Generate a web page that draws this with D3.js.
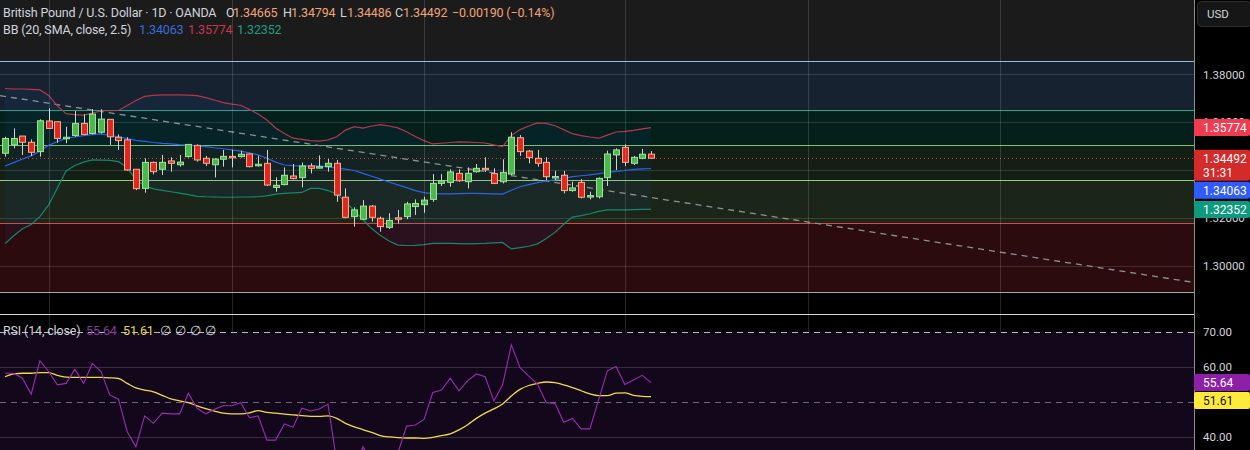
<!DOCTYPE html>
<html>
<head>
<meta charset="utf-8">
<title>GBPUSD 1D</title>
<script src="https://cdn.jsdelivr.net/npm/d3@7/dist/d3.min.js"></script>
<style>
  html, body { margin: 0; padding: 0; background: #000; overflow: hidden; }
  svg { display: block; }
  text { font-family: Roboto, "Liberation Sans", sans-serif; }
</style>
</head>
<body>
<div id="chart"></div>
<script>
// Daily candles, oldest to newest
const opens  = [1.3470, 1.3505, 1.3542, 1.3516, 1.3477, 1.3605, 1.3602, 1.3531, 1.3544, 1.3595,
                1.3553, 1.3558, 1.3612, 1.3537, 1.3526, 1.3403, 1.3323, 1.3432, 1.3403, 1.3438,
                1.3422, 1.3456, 1.3503, 1.3449, 1.3422, 1.3445, 1.3457, 1.3456, 1.3467, 1.3418,
                1.3428, 1.3327, 1.3339, 1.3375, 1.3368, 1.3417, 1.3411, 1.3414, 1.3428, 1.3286,
                1.3205, 1.3194, 1.3249, 1.3198, 1.3160, 1.3200, 1.3205, 1.3247, 1.3255, 1.3277,
                1.3344, 1.3348, 1.3386, 1.3351, 1.3393, 1.3407, 1.3385, 1.3351, 1.3383, 1.3535,
                1.3479, 1.3449, 1.3432, 1.3371, 1.3378, 1.3314, 1.3348, 1.3288, 1.3288, 1.3368,
                1.3463, 1.3495, 1.3428, 1.3449, 1.34665];
const highs  = [1.3539, 1.3574, 1.3543, 1.3528, 1.3612, 1.3658, 1.3603, 1.3581, 1.3647, 1.3633,
                1.3654, 1.3654, 1.3613, 1.3549, 1.3537, 1.3404, 1.3449, 1.3435, 1.3463, 1.3453,
                1.3463, 1.3508, 1.3507, 1.3459, 1.3449, 1.3484, 1.3484, 1.3481, 1.3470, 1.3460,
                1.3484, 1.3369, 1.3411, 1.3425, 1.3431, 1.3428, 1.3461, 1.3446, 1.3442, 1.3323,
                1.3244, 1.3274, 1.3253, 1.3205, 1.3219, 1.3233, 1.3267, 1.3277, 1.3288, 1.3383,
                1.3383, 1.3403, 1.3403, 1.3411, 1.3425, 1.3453, 1.3407, 1.3445, 1.3558, 1.3546,
                1.3484, 1.3484, 1.3453, 1.3397, 1.3396, 1.3351, 1.3362, 1.3309, 1.3369, 1.3481,
                1.3491, 1.3507, 1.3459, 1.3488, 1.34794];
const lows   = [1.3456, 1.3491, 1.3463, 1.3459, 1.3456, 1.3573, 1.3514, 1.3512, 1.3539, 1.3546,
                1.3549, 1.3553, 1.3505, 1.3484, 1.3397, 1.3316, 1.3305, 1.3382, 1.3379, 1.3393,
                1.3414, 1.3452, 1.3435, 1.3417, 1.3369, 1.3414, 1.3411, 1.3452, 1.3411, 1.3414,
                1.3333, 1.3309, 1.3336, 1.3361, 1.3327, 1.3386, 1.3407, 1.3393, 1.3267, 1.3198,
                1.3163, 1.3191, 1.3184, 1.3142, 1.3153, 1.3177, 1.3194, 1.3212, 1.3221, 1.3267,
                1.3333, 1.3330, 1.3351, 1.3323, 1.3389, 1.3392, 1.3341, 1.3344, 1.3379, 1.3459,
                1.3428, 1.3414, 1.3358, 1.3358, 1.3302, 1.3309, 1.3281, 1.3277, 1.3281, 1.3333,
                1.3400, 1.3417, 1.3421, 1.3445, 1.34486];
const closes = [1.3532, 1.3532, 1.3516, 1.3474, 1.3606, 1.3574, 1.3532, 1.3537, 1.3595, 1.3549,
                1.3634, 1.3613, 1.3539, 1.3523, 1.3400, 1.3322, 1.3432, 1.3393, 1.3432, 1.3428,
                1.3433, 1.3507, 1.3442, 1.3428, 1.3446, 1.3457, 1.3455, 1.3466, 1.3414, 1.3424,
                1.3337, 1.3336, 1.3378, 1.3364, 1.3417, 1.3407, 1.3414, 1.3428, 1.3295, 1.3202,
                1.3233, 1.3249, 1.3202, 1.3163, 1.3189, 1.3198, 1.3258, 1.3260, 1.3274, 1.3344,
                1.3355, 1.3392, 1.3355, 1.3386, 1.3407, 1.3404, 1.3344, 1.3390, 1.3537, 1.3477,
                1.3452, 1.3428, 1.3372, 1.3373, 1.3314, 1.3325, 1.3286, 1.3293, 1.3365, 1.3467,
                1.3484, 1.3432, 1.3453, 1.3466, 1.34492];

// Bollinger Bands (20, SMA, close, 2.5)
const bbUpper = [1.3741, 1.3739, 1.3739, 1.3737, 1.3735, 1.3712, 1.3668, 1.3636, 1.3632, 1.3630,
                 1.3638, 1.3648, 1.3648, 1.3649, 1.3670, 1.3691, 1.3708, 1.3712, 1.3714, 1.3714,
                 1.3714, 1.3713, 1.3711, 1.3703, 1.3693, 1.3682, 1.3676, 1.3671, 1.3653, 1.3634,
                 1.3609, 1.3576, 1.3553, 1.3533, 1.3528, 1.3523, 1.3521, 1.3526, 1.3539, 1.3567,
                 1.3581, 1.3575, 1.3584, 1.3590, 1.3584, 1.3576, 1.3560, 1.3540, 1.3523, 1.3509,
                 1.3512, 1.3515, 1.3518, 1.3517, 1.3515, 1.3513, 1.3505, 1.3498, 1.3544, 1.3569,
                 1.3584, 1.3597, 1.3595, 1.3585, 1.3569, 1.3552, 1.3544, 1.3538, 1.3533, 1.3546,
                 1.3559, 1.3562, 1.3566, 1.3572, 1.35774];
const bbBasis = [1.3417, 1.3431, 1.3446, 1.3459, 1.3480, 1.3503, 1.3519, 1.3532, 1.3538, 1.3544,
                 1.3548, 1.3551, 1.3545, 1.3539, 1.3531, 1.3524, 1.3520, 1.3515, 1.3511, 1.3509,
                 1.3506, 1.3504, 1.3501, 1.3498, 1.3493, 1.3489, 1.3484, 1.3479, 1.3472, 1.3463,
                 1.3449, 1.3433, 1.3421, 1.3418, 1.3417, 1.3417, 1.3417, 1.3413, 1.3408, 1.3404,
                 1.3398, 1.3386, 1.3374, 1.3362, 1.3350, 1.3338, 1.3326, 1.3314, 1.3305, 1.3301,
                 1.3300, 1.3300, 1.3301, 1.3302, 1.3302, 1.3301, 1.3300, 1.3299, 1.3315, 1.3330,
                 1.3339, 1.3347, 1.3354, 1.3359, 1.3365, 1.3372, 1.3376, 1.3380, 1.3385, 1.3390,
                 1.3394, 1.3398, 1.3403, 1.3405, 1.34063];
const bbLower = [1.3092, 1.3125, 1.3154, 1.3172, 1.3205, 1.3254, 1.3325, 1.3396, 1.3419, 1.3433,
                 1.3442, 1.3441, 1.3440, 1.3435, 1.3410, 1.3358, 1.3334, 1.3321, 1.3315, 1.3309,
                 1.3303, 1.3297, 1.3290, 1.3288, 1.3287, 1.3286, 1.3286, 1.3287, 1.3287, 1.3288,
                 1.3292, 1.3299, 1.3302, 1.3304, 1.3306, 1.3323, 1.3323, 1.3314, 1.3300, 1.3266,
                 1.3230, 1.3192, 1.3155, 1.3126, 1.3103, 1.3086, 1.3084, 1.3085, 1.3088, 1.3093,
                 1.3093, 1.3093, 1.3092, 1.3091, 1.3092, 1.3093, 1.3095, 1.3097, 1.3070, 1.3075,
                 1.3081, 1.3091, 1.3113, 1.3139, 1.3173, 1.3203, 1.3209, 1.3217, 1.3227, 1.3233,
                 1.3233, 1.3233, 1.3234, 1.3235, 1.32352];

// RSI (14, close) and its moving average
const rsiValues = [58.3, 58.3, 56.9, 52.3, 61.9, 58.8, 55.0, 55.4, 59.4, 55.4,
                   61.1, 58.8, 52.1, 50.9, 41.6, 37.3, 46.1, 44.0, 46.9, 46.7,
                   46.7, 52.6, 48.3, 46.7, 48.0, 49.0, 49.0, 49.9, 45.6, 46.1,
                   39.2, 39.2, 43.8, 42.9, 48.3, 47.5, 48.1, 49.5, 33.0, 28.0,
                   31.0, 37.3, 33.0, 29.5, 33.0, 35.5, 43.2, 43.5, 45.1, 52.8,
                   53.5, 56.9, 53.3, 56.2, 58.1, 57.3, 50.4, 55.0, 66.4, 59.9,
                   57.5, 55.2, 49.9, 49.7, 44.3, 45.4, 42.4, 42.4, 50.7, 59.0,
                   60.2, 55.1, 56.4, 57.7, 55.64];
const rsiMa = [57.3, 58.1, 58.3, 58.3, 58.5, 58.5, 57.7, 57.2, 57.1, 57.1,
               57.1, 57.1, 57.0, 56.8, 55.4, 54.1, 53.5, 53.0, 52.0, 51.0,
               50.4, 49.9, 49.0, 48.2, 47.5, 46.9, 46.7, 46.7, 47.0, 47.6,
               47.1, 46.9, 46.6, 46.4, 46.2, 46.0, 46.0, 46.1, 45.4, 44.0,
               43.0, 42.2, 41.4, 40.5, 40.1, 39.9, 39.8, 39.8, 39.7, 40.0,
               40.5, 41.0, 42.1, 43.6, 45.4, 46.9, 48.1, 49.5, 51.8, 53.7,
               54.8, 55.4, 55.8, 55.6, 55.0, 54.2, 53.3, 52.4, 51.9, 51.9,
               52.6, 52.7, 52.0, 51.7, 51.61];

// Axis ticks
const priceTicks = [1.30, 1.32, 1.34, 1.36, 1.38];
const rsiTicks = [70, 60, 50, 40];
// Bar index of each month start (vertical grid)
const monthStarts = [5, 26, 48, 71, 92, 114];

// Drawn horizontal zones (price levels, top to bottom) and the trend line
const zoneLevels = [1.3856, 1.3651, 1.3505, 1.3358, 1.3178, 1.2890];
const trendPoints = [{ i: 0, p: 1.3708 }, { i: 74, p: 1.3285 }];

// Legend texts
const symbolTitle = "British Pound / U.S. Dollar · 1D · OANDA";
const changeText = "−0.00190 (−0.14%)";
const countdown = "31:31";

// ---- layout / style ----
const W = 1250, H = 450;
const axisX = 1194;
const mainBottom = 313;
const sepY = 314;

const zoneFills = ["#16222f", "#05201b", "#131f14", "#1b2619", "#2c0b0f"];
const zoneStrokes = ["#8ebfe8", "#22a58b", "#79c470", "#8fd083", "#d94848", "#a9a9a9"];
const upBody = "#4cb84c", upBorder = "#9fe49c";
const downBody = "#e0271f", downBorder = "#f7b090";
const wickColor = "#d2d2d2";

const svg = d3.select("#chart").append("svg")
    .attr("width", W)
    .attr("height", H)
    .attr("viewBox", `0 0 ${W} ${H}`);

svg.append("rect").attr("width", W).attr("height", H).attr("fill", "#000");

// Scales
const x = d3.scaleLinear().domain([-0.573, 136.2]).range([0, axisX]);
const y = d3.scaleLinear().domain([1.30, 1.38]).range([265.6, 74.4]);
const yRsi = d3.scaleLinear().domain([30, 70]).range([472.3, 332.3]);

const idx = d3.range(closes.length);

const defs = svg.append("defs");
defs.append("clipPath").attr("id", "clip-main")
    .append("rect").attr("x", 0).attr("y", 0).attr("width", axisX).attr("height", mainBottom);
defs.append("clipPath").attr("id", "clip-rsi")
    .append("rect").attr("x", 0).attr("y", sepY + 1).attr("width", axisX).attr("height", H - sepY);

// ================= main pane =================
const main = svg.append("g").attr("clip-path", "url(#clip-main)");

// grey area above the top zone
main.append("rect")
    .attr("x", 0).attr("y", 0)
    .attr("width", axisX).attr("height", y(zoneLevels[0]))
    .attr("fill", "#1b1b1c");

// zone rectangles
main.selectAll("rect.zone")
    .data(d3.pairs(zoneLevels))
    .join("rect")
    .attr("class", "zone")
    .attr("x", 0)
    .attr("y", d => y(d[0]))
    .attr("width", axisX)
    .attr("height", d => y(d[1]) - y(d[0]))
    .attr("fill", (d, k) => zoneFills[k]);

// grid
main.selectAll("line.hgrid")
    .data(priceTicks)
    .join("line")
    .attr("x1", 0).attr("x2", axisX)
    .attr("y1", d => Math.round(y(d)) + 0.5).attr("y2", d => Math.round(y(d)) + 0.5)
    .attr("stroke", "rgba(255,255,255,0.13)");

svg.selectAll("line.vgrid")
    .data(monthStarts)
    .join("line")
    .attr("class", "vgrid")
    .attr("x1", d => Math.round(x(d)) + 0.5).attr("x2", d => Math.round(x(d)) + 0.5)
    .attr("y1", 0).attr("y2", H)
    .attr("stroke", "rgba(255,255,255,0.14)");

// zone border lines
main.selectAll("line.zline")
    .data(zoneLevels)
    .join("line")
    .attr("x1", 0).attr("x2", axisX)
    .attr("y1", d => Math.round(y(d)) + 0.5).attr("y2", d => Math.round(y(d)) + 0.5)
    .attr("stroke", (d, k) => zoneStrokes[k])
    .attr("stroke-width", 1.2);

// Bollinger background
main.append("path")
    .datum(idx)
    .attr("d", d3.area()
        .x(i => x(i))
        .y0(i => y(bbLower[i]))
        .y1(i => y(bbUpper[i])))
    .attr("fill", "rgba(41,98,255,0.06)");

// trend line, extended across the pane
const slope = (trendPoints[1].p - trendPoints[0].p) / (trendPoints[1].i - trendPoints[0].i);
const trendAt = i => trendPoints[0].p + slope * (i - trendPoints[0].i);
const iLeft = x.invert(0), iRight = x.invert(axisX);
main.append("line")
    .attr("x1", x(iLeft)).attr("y1", y(trendAt(iLeft)))
    .attr("x2", x(iRight)).attr("y2", y(trendAt(iRight)))
    .attr("stroke", "#8d9095")
    .attr("stroke-width", 1.3)
    .attr("stroke-dasharray", "6,5");

// BB lines
const bbLine = arr => d3.line().x(i => x(i)).y(i => y(arr[i]));
[[bbUpper, "#b8364c"], [bbBasis, "#2c62e8"], [bbLower, "#15876f"]].forEach(([arr, color]) => {
    main.append("path")
        .datum(idx)
        .attr("d", bbLine(arr))
        .attr("fill", "none")
        .attr("stroke", color)
        .attr("stroke-width", 1.2);
});

// last price dotted line
const lastClose = closes[closes.length - 1];
main.append("line")
    .attr("x1", 0).attr("x2", axisX)
    .attr("y1", Math.round(y(lastClose)) + 0.5).attr("y2", Math.round(y(lastClose)) + 0.5)
    .attr("stroke", "#d0492f")
    .attr("stroke-dasharray", "1,3");

// candles
const bodyW = (x(1) - x(0)) * 0.68;
const isUp = i => closes[i] >= opens[i];

main.selectAll("line.wick")
    .data(idx)
    .join("line")
    .attr("class", "wick")
    .attr("x1", i => Math.round(x(i)) + 0.5).attr("x2", i => Math.round(x(i)) + 0.5)
    .attr("y1", i => y(highs[i])).attr("y2", i => y(lows[i]))
    .attr("stroke", wickColor)
    .attr("stroke-width", 1);

main.selectAll("rect.body")
    .data(idx)
    .join("rect")
    .attr("class", "body")
    .attr("x", i => Math.round(x(i)) + 0.5 - bodyW / 2)
    .attr("y", i => y(Math.max(opens[i], closes[i])))
    .attr("width", bodyW)
    .attr("height", i => Math.max(1.5, Math.abs(y(opens[i]) - y(closes[i]))))
    .attr("fill", i => isUp(i) ? upBody : downBody)
    .attr("stroke", i => isUp(i) ? upBorder : downBorder)
    .attr("stroke-width", 1);

// ================= RSI pane =================
const rsiG = svg.append("g").attr("clip-path", "url(#clip-rsi)");

rsiG.append("rect")
    .attr("x", 0).attr("y", yRsi(70))
    .attr("width", axisX).attr("height", yRsi(30) - yRsi(70))
    .attr("fill", "#12071b");

rsiG.selectAll("line.rgrid")
    .data(rsiTicks)
    .join("line")
    .attr("x1", 0).attr("x2", axisX)
    .attr("y1", d => Math.round(yRsi(d)) + 0.5).attr("y2", d => Math.round(yRsi(d)) + 0.5)
    .attr("stroke", d => d === 70 ? "#bdbdbd" : (d === 50 ? "#6e6578" : "rgba(255,255,255,0.16)"))
    .attr("stroke-dasharray", d => (d === 70 || d === 50) ? "6,5" : null);

rsiG.append("path")
    .datum(idx)
    .attr("d", d3.line().x(i => x(i)).y(i => yRsi(rsiMa[i])).curve(d3.curveMonotoneX))
    .attr("fill", "none")
    .attr("stroke", "#f0dc4a")
    .attr("stroke-width", 1.3);

rsiG.append("path")
    .datum(idx)
    .attr("d", d3.line().x(i => x(i)).y(i => yRsi(rsiValues[i])))
    .attr("fill", "none")
    .attr("stroke", "#9a2db3")
    .attr("stroke-width", 1.1);

// pane separator
svg.append("line")
    .attr("x1", 0).attr("x2", W)
    .attr("y1", sepY + 0.5).attr("y2", sepY + 0.5)
    .attr("stroke", "#d6d6d6");

// ================= right axis =================
svg.append("rect")
    .attr("x", axisX).attr("y", 0).attr("width", W - axisX).attr("height", H)
    .attr("fill", "#000");
svg.append("line")
    .attr("x1", axisX + 0.5).attr("x2", axisX + 0.5)
    .attr("y1", 0).attr("y2", H)
    .attr("stroke", "#8c8c8c");

// value labels, pushed down when they overlap (like the platform does)
function stackLabels(list) {
    list.forEach(l => { l.top = l.cy - 8.5; });
    list.sort((a, b) => a.top - b.top);
    for (let k = 1; k < list.length; k++) {
        const prev = list[k - 1];
        const minTop = prev.top + prev.h + 1;
        if (list[k].top < minTop) list[k].top = minTop;
    }
    return list;
}

const priceLabels = stackLabels([
    { v: bbUpper[bbUpper.length - 1], cy: y(bbUpper[bbUpper.length - 1]), h: 17, bg: "#f23a50", fg: "#fff", fmt: ".5f" },
    { v: lastClose, cy: y(lastClose), h: 31, bg: "#d32a2a", fg: "#fff", fmt: ".5f", sub: countdown },
    { v: bbBasis[bbBasis.length - 1], cy: y(bbBasis[bbBasis.length - 1]), h: 17, bg: "#2f5cff", fg: "#fff", fmt: ".5f" },
    { v: bbLower[bbLower.length - 1], cy: y(bbLower[bbLower.length - 1]), h: 17, bg: "#0e9a7e", fg: "#fff", fmt: ".5f" }
]);
const rsiLabels = stackLabels([
    { v: rsiValues[rsiValues.length - 1], cy: yRsi(rsiValues[rsiValues.length - 1]), h: 17, bg: "#8d1fa9", fg: "#fff", fmt: ".2f" },
    { v: rsiMa[rsiMa.length - 1], cy: yRsi(rsiMa[rsiMa.length - 1]), h: 17, bg: "#ffea3b", fg: "#111", fmt: ".2f" }
]);

// a tick label that sits well inside a value label is not shown
const hiddenBy = (labels, cy) => labels.some(l => cy > l.top + 5 && cy < l.top + l.h - 5);

const axisFont = "11.5px";
svg.selectAll("text.ptick")
    .data(priceTicks.filter(d => !hiddenBy(priceLabels, y(d))))
    .join("text")
    .attr("x", 1203).attr("y", d => y(d))
    .attr("dy", "0.36em")
    .attr("fill", "#d1d4dc")
    .attr("font-size", axisFont)
    .text(d => d3.format(".5f")(d));

svg.selectAll("text.rtick")
    .data(rsiTicks.filter(d => !hiddenBy(rsiLabels, yRsi(d))))
    .join("text")
    .attr("x", 1203).attr("y", d => yRsi(d))
    .attr("dy", "0.36em")
    .attr("fill", "#d1d4dc")
    .attr("font-size", axisFont)
    .text(d => d3.format(".2f")(d));

[...priceLabels, ...rsiLabels].forEach(l => {
    const g = svg.append("g");
    g.append("rect")
        .attr("x", axisX).attr("y", l.top)
        .attr("width", W - axisX).attr("height", l.h)
        .attr("rx", 2)
        .attr("fill", l.bg);
    g.append("text")
        .attr("x", 1203).attr("y", l.top + 8.5)
        .attr("dy", "0.36em")
        .attr("fill", l.fg)
        .attr("font-size", "12px")
        .text(d3.format(l.fmt)(l.v));
    if (l.sub) {
        g.append("text")
            .attr("x", 1203).attr("y", l.top + 23)
            .attr("dy", "0.36em")
            .attr("fill", l.fg)
            .attr("font-size", "12px")
            .text(l.sub);
    }
});

// currency button
svg.append("rect")
    .attr("x", 1197.5).attr("y", 1.5).attr("width", 54).attr("height", 25)
    .attr("rx", 4)
    .attr("fill", "#161616").attr("stroke", "#2f2f2f");
svg.append("text")
    .attr("x", 1207).attr("y", 14)
    .attr("dy", "0.36em")
    .attr("fill", "#d1d4dc")
    .attr("font-size", "11.5px")
    .text("USD");

// ================= legends =================
const legendFont = "12.5px";
const lastIdx = closes.length - 1;
const ohlcColor = "#f2a377";
const fmt5 = d3.format(".5f");

const line1 = [
    { x: 3, t: symbolTitle, c: "#d1d4dc" },
    { x: 226, t: "O", c: "#d1d4dc" }, { x: 233, t: fmt5(opens[lastIdx]), c: ohlcColor },
    { x: 283, t: "H", c: "#d1d4dc" }, { x: 291, t: fmt5(highs[lastIdx]), c: ohlcColor },
    { x: 340, t: "L", c: "#d1d4dc" }, { x: 347, t: fmt5(lows[lastIdx]), c: ohlcColor },
    { x: 395, t: "C", c: "#d1d4dc" }, { x: 403, t: fmt5(closes[lastIdx]), c: ohlcColor },
    { x: 452, t: changeText, c: ohlcColor }
];
const line2 = [
    { x: 3, t: "BB (20, SMA, close, 2.5)", c: "#d1d4dc" },
    { x: 139, t: fmt5(bbBasis[lastIdx]), c: "#3a6cdc" },
    { x: 188, t: fmt5(bbUpper[lastIdx]), c: "#c9374e" },
    { x: 237, t: fmt5(bbLower[lastIdx]), c: "#1f9d80" }
];
const line3 = [
    { x: 3, t: "RSI (14, close)", c: "#d1d4dc" },
    { x: 86, t: d3.format(".2f")(rsiValues[lastIdx]), c: "#8a3aa0" },
    { x: 123, t: d3.format(".2f")(rsiMa[lastIdx]), c: "#e8d746" },
    { x: 160, t: "∅", c: "#d1d4dc" }, { x: 175, t: "∅", c: "#d1d4dc" },
    { x: 190, t: "∅", c: "#d1d4dc" }, { x: 205, t: "∅", c: "#d1d4dc" }
];

[[line1, 12.5], [line2, 29.5], [line3, 330]].forEach(([items, cy]) => {
    svg.append("g").selectAll("text")
        .data(items)
        .join("text")
        .attr("x", d => d.x).attr("y", cy)
        .attr("dy", "0.36em")
        .attr("fill", d => d.c)
        .attr("font-size", legendFont)
        .attr("letter-spacing", "-0.15px")
        .text(d => d.t);
});
</script>
</body>
</html>
